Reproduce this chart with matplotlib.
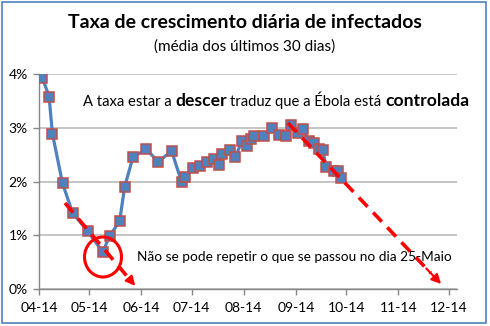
import matplotlib
matplotlib.use("Agg")
import matplotlib.pyplot as plt
import matplotlib.dates as mdates
from matplotlib.patches import Rectangle, Ellipse, FancyArrowPatch
from matplotlib.lines import Line2D
import pandas as pd

plt.rcParams['font.family'] = ['Lato', 'DejaVu Sans']

# daily growth rate of infections (30-day average), in %
dates = ["2014-04-03", "2014-04-07", "2014-04-09", "2014-04-15", "2014-04-21",
         "2014-04-30", "2014-05-09", "2014-05-13", "2014-05-19", "2014-05-22",
         "2014-05-27", "2014-06-04", "2014-06-11", "2014-06-19", "2014-06-25",
         "2014-06-27", "2014-07-02", "2014-07-06", "2014-07-10", "2014-07-14",
         "2014-07-17", "2014-07-19", "2014-07-24", "2014-07-27", "2014-07-31",
         "2014-08-03", "2014-08-05", "2014-08-07", "2014-08-13", "2014-08-18",
         "2014-08-22", "2014-08-26", "2014-08-29", "2014-09-02", "2014-09-05",
         "2014-09-09", "2014-09-12", "2014-09-15", "2014-09-17", "2014-09-19",
         "2014-09-24", "2014-09-26", "2014-09-28"]
rate = [3.93, 3.58, 2.89, 1.97, 1.42,
        1.08, 0.69, 0.99, 1.26, 1.90,
        2.46, 2.60, 2.37, 2.57, 1.99,
        2.09, 2.25, 2.29, 2.37, 2.42,
        2.31, 2.51, 2.59, 2.46, 2.76,
        2.66, 2.79, 2.84, 2.84, 2.99,
        2.87, 2.84, 3.05, 2.91, 2.98,
        2.76, 2.72, 2.60, 2.59, 2.28,
        2.19, 2.19, 2.07]

dates = pd.to_datetime(dates)

W, H = 490, 326
fig = plt.figure(figsize=(W / 100, H / 100), dpi=100)

def fx(px):
    return px / W

def fy(py):
    return 1 - py / H

ax = fig.add_axes([fx(39), fy(289.3), fx(457) - fx(39), fy(74) - fy(289.3)])

ax.plot(dates, rate, color='#4F81BD', lw=2.3, marker='s', ms=6.5,
        mfc='#4F81BD', mec='#C0504D', mew=1.1, zorder=3)

ax.set_ylim(0, 4)
ax.set_yticks([0, 1, 2, 3, 4])
ax.yaxis.set_major_formatter(plt.FuncFormatter(lambda v, p: f"{v:.0f}%"))
ax.set_xlim(pd.Timestamp("2014-04-01"), pd.Timestamp("2014-12-06"))
ax.xaxis.set_major_locator(mdates.MonthLocator())
ax.xaxis.set_major_formatter(mdates.DateFormatter('%m-%y'))

ax.grid(axis='y', color='#BFBFBF', lw=1.3)
ax.set_axisbelow(True)
for side in ['top', 'right']:
    ax.spines[side].set_visible(False)
for side in ['left', 'bottom']:
    ax.spines[side].set_color('#868686')
    ax.spines[side].set_linewidth(1.0)
ax.tick_params(axis='both', colors='#868686', labelcolor='black',
               labelsize=10, length=4, width=1.0)
ax.tick_params(axis='x', pad=5)
ax.tick_params(axis='y', pad=4)

# titles
fig.text(0.5, fy(22), "Taxa de crescimento diária de infectados",
         ha='center', va='center', fontsize=14, fontweight='bold')
fig.text(0.5, fy(47), "(média dos últimos 30 dias)",
         ha='center', va='center', fontsize=11)

# mixed weight comment above the curve
fig.canvas.draw()
renderer = fig.canvas.get_renderer()
pieces = [("A taxa estar a", 'normal', 10.6),
          ("descer", 'bold', 12.6),
          ("traduz que a Ébola está", 'normal', 10.6),
          ("controlada", 'bold', 12.6)]
x = 83
for s, w, size in pieces:
    t = fig.text(fx(x), fy(106), s, fontsize=size, fontweight=w,
                 va='baseline', ha='left')
    bb = t.get_window_extent(renderer)
    x = bb.x1 + 3.5

fig.text(fx(137), fy(261), "Não se pode repetir o que se passou no dia 25-Maio",
         fontsize=9.8, va='baseline', ha='left')

# red circle around the minimum
fig.add_artist(Ellipse((fx(103), fy(257)), fx(37), 40 / H, fill=False,
                       ec='#FF0000', lw=2.2, transform=fig.transFigure))

# red dashed arrows
def dashed_arrow(x0, y0, x1, y1):
    hx = x1 - (x1 - x0) * 0.08
    hy = y1 - (y1 - y0) * 0.08
    fig.add_artist(Line2D([fx(x0), fx(hx)], [fy(y0), fy(hy)], color='#FF0000',
                          lw=2.6, ls=(0, (3.5, 2.2)), transform=fig.transFigure))
    fig.add_artist(FancyArrowPatch((fx(hx - (x1 - x0) * 0.04), fy(hy - (y1 - y0) * 0.04)),
                                   (fx(x1), fy(y1)), arrowstyle='-|>',
                                   mutation_scale=14, color='#FF0000', lw=1.5,
                                   transform=fig.transFigure))

dashed_arrow(65, 203, 137, 288)
dashed_arrow(288, 123, 443, 286)

# chart border
fig.add_artist(Rectangle((fx(1.5), fy(322.5)), fx(486) - fx(1.5), fy(2) - fy(322.5),
                         fill=False, ec='#4F81BD', lw=1.2, transform=fig.transFigure))

fig.savefig("out.png", dpi=100)
